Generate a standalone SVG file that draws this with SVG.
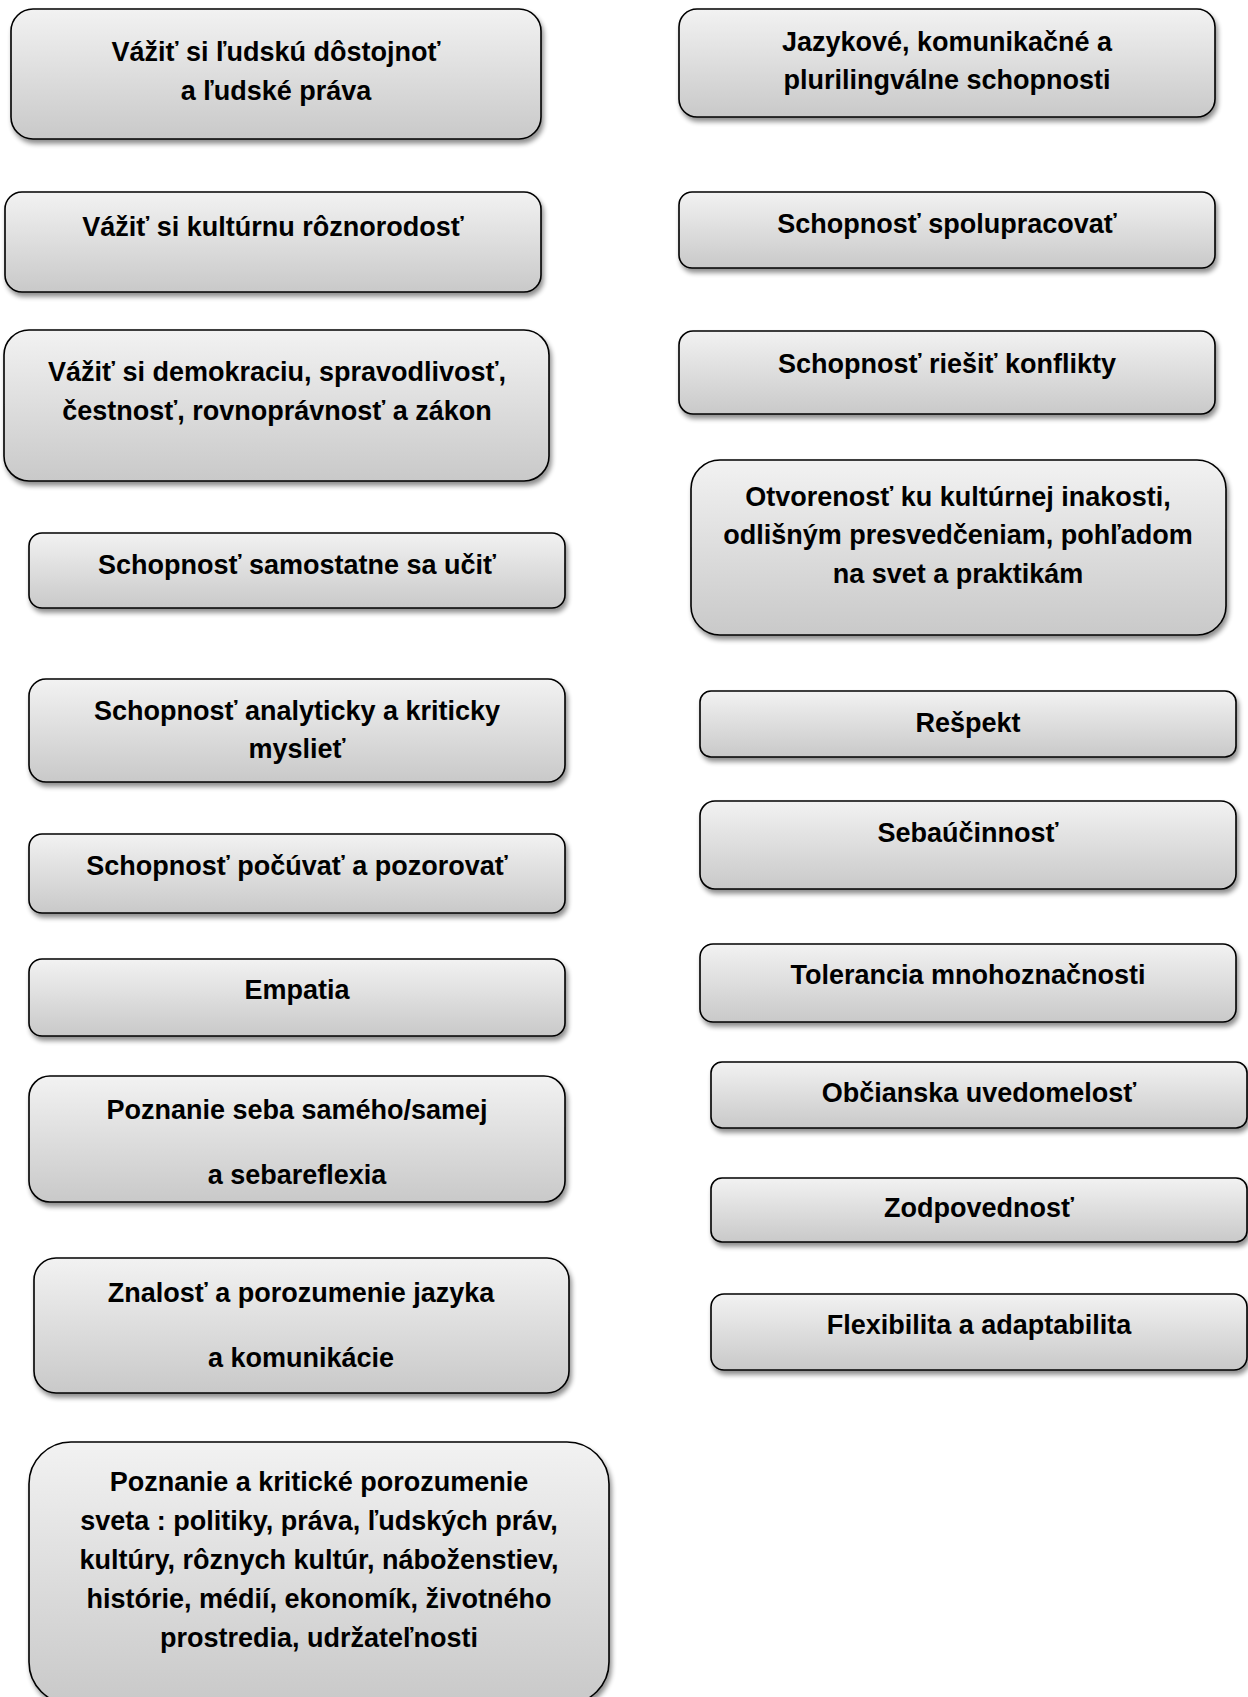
<svg xmlns="http://www.w3.org/2000/svg" width="1248" height="1697" viewBox="0 0 1248 1697">
<defs>
<linearGradient id="g" x1="0" y1="0" x2="0" y2="1">
<stop offset="0" stop-color="#f2f2f2"/>
<stop offset="1" stop-color="#c9c9c9"/>
</linearGradient>
<filter id="sh" x="-5%" y="-10%" width="112%" height="130%">
<feGaussianBlur in="SourceAlpha" stdDeviation="2.5"/>
<feOffset dx="2" dy="4" result="b"/>
<feComponentTransfer><feFuncA type="linear" slope="0.45"/></feComponentTransfer>
<feMerge><feMergeNode/><feMergeNode in="SourceGraphic"/></feMerge>
</filter>
</defs>
<style>
rect{fill:url(#g);stroke:#000;stroke-width:1.6;filter:url(#sh)}
text{font-family:"Liberation Sans",Arial,sans-serif;font-weight:bold;font-size:27px;fill:#000;text-anchor:middle}
</style>
<rect width="1248" height="1697" fill="#fff" style="fill:#fff;stroke:none;filter:none"/>
<g id="connectors"/>
<g id="n1"><rect x="11" y="9" width="530" height="130" rx="22"/><text x="276" y="61">Vážiť si ľudskú dôstojnoť</text><text x="276" y="100">a ľudské práva</text></g>
<g id="n2"><rect x="5" y="192" width="536" height="100" rx="17"/><text x="273" y="236">Vážiť si kultúrnu rôznorodosť</text></g>
<g id="n3"><rect x="4" y="330" width="545" height="151" rx="25"/><text x="277" y="381">Vážiť si demokraciu, spravodlivosť,</text><text x="277" y="420">čestnosť, rovnoprávnosť a zákon</text></g>
<g id="n4"><rect x="29" y="533" width="536" height="75" rx="13"/><text x="297" y="574">Schopnosť samostatne sa učiť</text></g>
<g id="n5"><rect x="29" y="679" width="536" height="103" rx="17"/><text x="297" y="720">Schopnosť analyticky a kriticky</text><text x="297" y="758">myslieť</text></g>
<g id="n6"><rect x="29" y="834" width="536" height="79" rx="13"/><text x="297" y="875">Schopnosť počúvať a pozorovať</text></g>
<g id="n7"><rect x="29" y="959" width="536" height="77" rx="13"/><text x="297" y="999">Empatia</text></g>
<g id="n8"><rect x="29" y="1076" width="536" height="126" rx="21"/><text x="297" y="1119">Poznanie seba samého/samej</text><text x="297" y="1184">a sebareflexia</text></g>
<g id="n9"><rect x="34" y="1258" width="535" height="135" rx="22"/><text x="301" y="1302">Znalosť a porozumenie jazyka</text><text x="301" y="1367">a komunikácie</text></g>
<g id="n10"><rect x="29" y="1442" width="580" height="262" rx="42"/><text x="319" y="1491">Poznanie a kritické porozumenie</text><text x="319" y="1530">sveta : politiky, práva, ľudských práv,</text><text x="319" y="1569">kultúry, rôznych kultúr, náboženstiev,</text><text x="319" y="1608">histórie, médií, ekonomík, životného</text><text x="319" y="1647">prostredia, udržateľnosti</text></g>
<g id="n11"><rect x="679" y="9" width="536" height="108" rx="18"/><text x="947" y="51">Jazykové, komunikačné a</text><text x="947" y="89">plurilingválne schopnosti</text></g>
<g id="n12"><rect x="679" y="192" width="536" height="76" rx="13"/><text x="947" y="233">Schopnosť spolupracovať</text></g>
<g id="n13"><rect x="679" y="331" width="536" height="83" rx="14"/><text x="947" y="373">Schopnosť riešiť konflikty</text></g>
<g id="n14"><rect x="691" y="460" width="535" height="175" rx="29"/><text x="958" y="506">Otvorenosť ku kultúrnej inakosti,</text><text x="958" y="544">odlišným presvedčeniam, pohľadom</text><text x="958" y="583">na svet a praktikám</text></g>
<g id="n15"><rect x="700" y="691" width="536" height="66" rx="11"/><text x="968" y="732">Rešpekt</text></g>
<g id="n16"><rect x="700" y="801" width="536" height="88" rx="15"/><text x="968" y="842">Sebaúčinnosť</text></g>
<g id="n17"><rect x="700" y="944" width="536" height="78" rx="13"/><text x="968" y="984">Tolerancia mnohoznačnosti</text></g>
<g id="n18"><rect x="711" y="1062" width="536" height="66" rx="11"/><text x="979" y="1102">Občianska uvedomelosť</text></g>
<g id="n19"><rect x="711" y="1178" width="536" height="64" rx="11"/><text x="979" y="1217">Zodpovednosť</text></g>
<g id="n20"><rect x="711" y="1294" width="536" height="76" rx="13"/><text x="979" y="1334">Flexibilita a adaptabilita</text></g>
</svg>
